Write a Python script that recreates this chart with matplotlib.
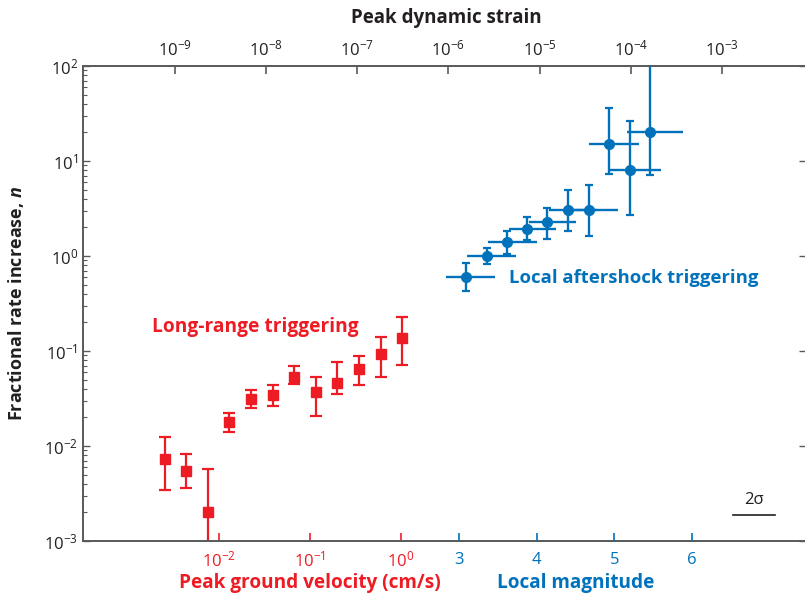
import numpy as np
import matplotlib.pyplot as plt
from matplotlib.ticker import NullLocator, FixedLocator

plt.rcParams['font.family'] = ['Open Sans', 'DejaVu Sans']
plt.rcParams['mathtext.fontset'] = 'custom'
plt.rcParams['mathtext.rm'] = 'Open Sans'
plt.rcParams['mathtext.it'] = 'Open Sans:italic'
plt.rcParams['mathtext.bf'] = 'Open Sans:bold'
plt.rcParams['mathtext.bfit'] = 'Open Sans:italic:bold'

RED = '#ED1C24'
BLUE = '#0072BC'
DARK = '#231F20'
GREY = '#58595B'

# Long-range triggering, vs peak ground velocity (cm/s)
pgv = [0.00255, 0.00434, 0.00751, 0.0129, 0.0225, 0.0389, 0.0662, 0.1164, 0.198, 0.343, 0.603, 1.026]
pgv_n = [0.00735, 0.00550, 0.00202, 0.0180, 0.0313, 0.0347, 0.0536, 0.0373, 0.0461, 0.0651, 0.0937, 0.138]
pgv_lo = [0.00344, 0.00364, 0.0005, 0.0142, 0.0249, 0.0262, 0.0446, 0.0207, 0.0350, 0.0442, 0.0529, 0.0712]
pgv_hi = [0.01253, 0.00824, 0.00573, 0.0224, 0.0388, 0.0439, 0.0695, 0.0529, 0.0760, 0.0886, 0.139, 0.230]

# Local aftershock triggering, vs local magnitude
mag = [3.086, 3.357, 3.619, 3.876, 4.134, 4.401, 4.671, 4.933, 5.196, 5.461]
mag_left = [2.829, 3.103, 3.374, 3.644, 3.902, 4.160, 4.427, 4.675, 4.933, 5.165]
mag_right = [3.460, 3.731, 3.997, 4.246, 4.504, 4.775, 5.049, 5.320, 5.595, 5.879]
mag_n = [0.605, 1.007, 1.404, 1.938, 2.296, 3.05, 3.05, 15.0, 8.04, 20.0]
mag_lo = [0.428, 0.818, 1.05, 1.474, 1.51, 1.83, 1.61, 7.35, 2.68, 7.17]
mag_hi = [0.838, 1.223, 1.833, 2.59, 3.23, 4.95, 5.59, 36.4, 26.4, 300.0]

# axis ranges and ticks
ylim = (1e-3, 1e2)
pgv_lim = (10 ** -3.4945, 10 ** 4.4505)
mag_lim = (-1.849, 7.469)
strain_lim = (10 ** -10.003, 10 ** -2.081)

y_ticks = [1e-3, 1e-2, 1e-1, 1e0, 1e1, 1e2]
y_labels = ['$10^{-3}$', '$10^{-2}$', '$10^{-1}$', '$10^{0}$', '$10^{1}$', '$10^{2}$']
pgv_ticks = [1e-2, 1e-1, 1e0]
pgv_labels = ['$10^{-2}$', '$10^{-1}$', '$10^{0}$']
mag_ticks = [3, 4, 5, 6]
mag_labels = ['3', '4', '5', '6']
strain_ticks = [1e-9, 1e-8, 1e-7, 1e-6, 1e-5, 1e-4, 1e-3]
strain_labels = ['$10^{-9}$', '$10^{-8}$', '$10^{-7}$', '$10^{-6}$', '$10^{-5}$', '$10^{-4}$', '$10^{-3}$']

W, H = 805, 593
fig = plt.figure(figsize=(W / 100, H / 100), dpi=100)
ax = fig.add_axes([83 / W, (H - 541) / H, (806 - 83) / W, (541 - 66) / H])

ax.set_yscale('log')
ax.set_ylim(*ylim)
ax.set_xscale('log')
ax.set_xlim(*pgv_lim)

ax_mag = ax.twiny()
ax_mag.set_xlim(*mag_lim)
ax_str = ax.twiny()
ax_str.set_xscale('log')
ax_str.set_xlim(*strain_lim)

# spines
for name in ['left', 'bottom', 'top']:
    ax.spines[name].set_color(GREY)
    ax.spines[name].set_linewidth(1.4)
ax.spines['right'].set_visible(False)
for a in (ax_mag, ax_str):
    for s in a.spines.values():
        s.set_visible(False)

TICK_FS = 12

# y axis
ax.yaxis.set_major_locator(FixedLocator(y_ticks))
ax.set_yticklabels(y_labels)
ax.tick_params(axis='y', which='major', direction='in', length=5, width=1,
               color=GREY, left=True, right=True, labelsize=TICK_FS, labelcolor=DARK, pad=3.5)
ax.tick_params(axis='y', which='minor', direction='in', length=3, width=0.8,
               color=GREY, left=True, right=False)
ax.set_ylabel(r'Fractional rate increase, $\mathbfit{n}$', fontsize=13,
              fontweight='bold', color=DARK)
ax.yaxis.set_label_coords(-0.079, 0.5)

# bottom: peak ground velocity
ax.xaxis.set_major_locator(FixedLocator(pgv_ticks))
ax.xaxis.set_minor_locator(NullLocator())
ax.set_xticklabels(pgv_labels)
ax.tick_params(axis='x', which='major', direction='in', length=6, width=1.2,
               color=RED, labelcolor=RED, labelsize=TICK_FS, top=False, pad=7)

# bottom: local magnitude
ax_mag.xaxis.set_ticks_position('bottom')
ax_mag.xaxis.set_label_position('bottom')
ax_mag.xaxis.set_major_locator(FixedLocator(mag_ticks))
ax_mag.set_xticklabels(mag_labels)
ax_mag.tick_params(axis='x', direction='in', length=6, width=1.2,
                   color=BLUE, labelcolor=BLUE, labelsize=TICK_FS, pad=8)

# top: peak dynamic strain
ax_str.xaxis.set_major_locator(FixedLocator(strain_ticks))
ax_str.xaxis.set_minor_locator(NullLocator())
ax_str.set_xticklabels(strain_labels)
ax_str.tick_params(axis='x', direction='in', length=6, width=1.2,
                   color=GREY, labelcolor=DARK, labelsize=TICK_FS, pad=5)

# data
pgv_n_arr = np.array(pgv_n)
ax.errorbar(pgv, pgv_n, yerr=[pgv_n_arr - np.array(pgv_lo), np.array(pgv_hi) - pgv_n_arr],
            fmt='s', color=RED, ms=6.5, elinewidth=1.6, capsize=4.5, capthick=1.6)

mag_arr = np.array(mag)
mag_n_arr = np.array(mag_n)
# horizontal bars have no caps, vertical bars do
ax_mag.errorbar(mag, mag_n,
                xerr=[mag_arr - np.array(mag_left), np.array(mag_right) - mag_arr],
                fmt='none', ecolor=BLUE, elinewidth=1.7, capsize=0)
ax_mag.errorbar(mag, mag_n,
                yerr=[mag_n_arr - np.array(mag_lo), np.array(mag_hi) - mag_n_arr],
                fmt='o', color=BLUE, ms=7, elinewidth=1.7, capsize=2.8, capthick=1.6)

# annotations
ax.text(0.0954, 0.4505, 'Long-range triggering', transform=ax.transAxes,
        color=RED, fontsize=13.8, fontweight='bold', va='center', ha='left')
ax.text(0.589, 0.554, 'Local aftershock triggering', transform=ax.transAxes,
        color=BLUE, fontsize=13.3, fontweight='bold', va='center', ha='left')

ax.plot([0.8986, 0.957], [0.0547, 0.0547], transform=ax.transAxes, color=DARK, lw=1.2)
ax.text(0.928, 0.086, '2σ', transform=ax.transAxes, color=DARK, fontsize=12,
        ha='center', va='center')

fig.text(310 / W, 1 - 583 / H, 'Peak ground velocity (cm/s)', color=RED,
         fontsize=13.7, fontweight='bold', ha='center', va='center')
fig.text(575.3 / W, 1 - 583 / H, 'Local magnitude', color=BLUE,
         fontsize=13.7, fontweight='bold', ha='center', va='center')
fig.text(446.6 / W, 1 - 18 / H, 'Peak dynamic strain', color=DARK,
         fontsize=13.5, fontweight='bold', ha='center', va='center')

fig.savefig('out.png', dpi=100)
